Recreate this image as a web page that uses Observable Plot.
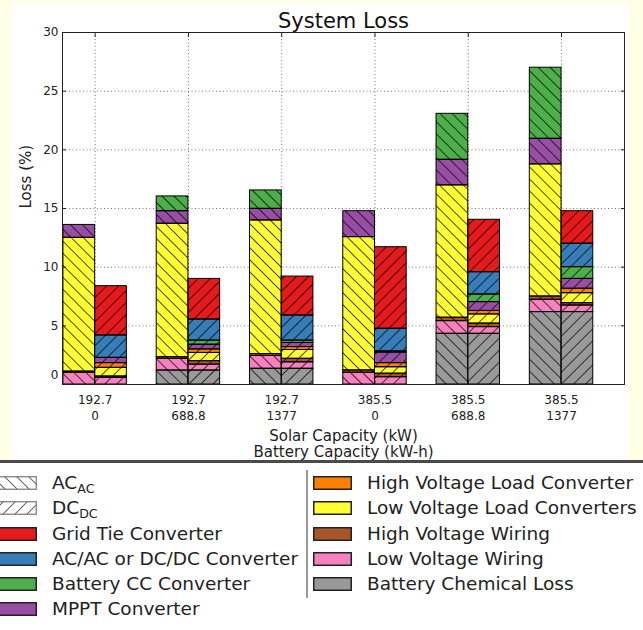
<!DOCTYPE html>
<html><head><meta charset="utf-8">
<script src="https://cdn.jsdelivr.net/npm/d3@7"></script>
<script src="https://cdn.jsdelivr.net/npm/@observablehq/plot@0.6"></script>
<style>
html,body{margin:0;padding:0;}
body{width:643px;height:630px;background:#ffffe6;position:relative;overflow:hidden;font-family:"DejaVu Sans",sans-serif;}
#fig{position:absolute;left:11px;top:3px;width:617px;height:457px;background:#fff;}
#legend{position:absolute;left:0;top:460px;width:643px;height:170px;background:#fff;border-top:3px solid #4a4a4a;box-sizing:border-box;}
.patch{position:absolute;}
.txt{position:absolute;height:26px;line-height:26px;font-size:18.5px;color:#222;white-space:nowrap;}
.sub{font-size:0.68em;position:relative;top:0.28em;}
#divider{position:absolute;left:306px;top:7px;width:1.5px;height:128px;background:#999;}
</style>
</head>
<body>
<div id="fig"></div>
<div id="legend"><div id="divider"></div></div>
<script>
// ---- data ----
const solarCapacity = ["192.7", "192.7", "192.7", "385.5", "385.5", "385.5"];
const batteryCapacity = ["0", "688.8", "1377", "0", "688.8", "1377"];
const groupIndex = [0, 1, 2, 3, 4, 5];
const yTicks = [5, 10, 15, 20, 25, 30];

// stacking order bottom -> top
const components = ["Battery Chemical Loss", "Low Voltage Wiring", "High Voltage Wiring",
  "Low Voltage Load Converters", "High Voltage Load Converter", "MPPT Converter",
  "Battery CC Converter", "AC/AC or DC/DC Converter", "Grid Tie Converter"];
const colors = ["#999999", "#f781bf", "#a65628", "#ffff33", "#ff7f00", "#984ea3", "#4daf4a", "#377eb8", "#e41a1c"];

// AC_AC bars
const batteryChemicalAC = [0, 1.19, 1.34, 0, 4.32, 6.17];
const lvWiringAC        = [1.0, 1.0, 1.1, 1.0, 1.08, 1.05];
const hvWiringAC        = [0.1, 0.14, 0.16, 0.2, 0.29, 0.28];
const lvLoadAC          = [11.4, 11.37, 11.38, 11.36, 11.28, 11.26];
const hvLoadAC          = [0, 0, 0, 0, 0, 0];
const mpptAC            = [1.1, 1.07, 0.99, 2.21, 2.18, 2.18];
const batteryCCAC       = [0, 1.26, 1.57, 0, 3.92, 6.06];
const converterAC       = [0, 0, 0, 0, 0, 0];
const gridTieAC         = [0, 0, 0, 0, 0, 0];
// DC_DC bars
const batteryChemicalDC = [0, 1.19, 1.34, 0, 4.32, 6.17];
const lvWiringDC        = [0.57, 0.5, 0.55, 0.62, 0.57, 0.56];
const hvWiringDC        = [0.11, 0.3, 0.3, 0.3, 0.3, 0.2];
const lvLoadDC          = [0.74, 0.7, 0.75, 0.55, 0.78, 0.85];
const hvLoadDC          = [0.4, 0.3, 0.25, 0.35, 0.3, 0.38];
const mpptDC            = [0.45, 0.4, 0.35, 0.9, 0.75, 0.84];
const batteryCCDC       = [0, 0.35, 0.2, 0.1, 0.65, 1.0];
const converterDC       = [1.91, 1.8, 2.14, 1.93, 1.9, 2.0];
const gridTieDC         = [4.2, 3.46, 3.32, 6.95, 4.47, 2.77];

const seriesAC = [batteryChemicalAC, lvWiringAC, hvWiringAC, lvLoadAC, hvLoadAC, mpptAC, batteryCCAC, converterAC, gridTieAC];
const seriesDC = [batteryChemicalDC, lvWiringDC, hvWiringDC, lvLoadDC, hvLoadDC, mpptDC, batteryCCDC, converterDC, gridTieDC];

const legendLeft = [
  {label: "AC", sub: "AC", hatch: "AC"},
  {label: "DC", sub: "DC", hatch: "DC"},
  {label: "Grid Tie Converter", color: "#e41a1c"},
  {label: "AC/AC or DC/DC Converter", color: "#377eb8"},
  {label: "Battery CC Converter", color: "#4daf4a"},
  {label: "MPPT Converter", color: "#984ea3"}
];
const legendRight = [
  {label: "High Voltage Load Converter", color: "#ff7f00"},
  {label: "Low Voltage Load Converters", color: "#ffff33"},
  {label: "High Voltage Wiring", color: "#a65628"},
  {label: "Low Voltage Wiring", color: "#f781bf"},
  {label: "Battery Chemical Loss", color: "#999999"}
];

// ---- build stacked rows ----
const barWidth = 0.34;
const rows = [];
groupIndex.forEach(i => {
  [["AC", seriesAC], ["DC", seriesDC]].forEach(([type, series]) => {
    let acc = 0;
    components.forEach((c, k) => {
      const v = series[k][i];
      if (v > 0) rows.push({i, type, comp: c, color: colors[k], y1: acc, y2: acc + v});
      acc += v;
    });
  });
});
const bx1 = d => d.type === "AC" ? d.i - barWidth : d.i;
const bx2 = d => d.type === "AC" ? d.i : d.i + barWidth;

const grid = {stroke: "#000", strokeOpacity: 0.55, strokeDasharray: "1,2.5", strokeWidth: 1};

const svg = Plot.plot({
  width: 617, height: 457,
  marginLeft: 51, marginRight: 4, marginTop: 29, marginBottom: 76,
  style: {fontFamily: "DejaVu Sans", fontSize: "12px", background: "#fff", color: "#222", overflow: "visible"},
  x: {type: "linear", domain: [-0.35, 5.675]},
  y: {domain: [0, 30]},
  color: {type: "identity"},
  marks: [
    Plot.gridX(groupIndex, grid),
    Plot.gridY(yTicks.slice(0, -1), grid),
    Plot.rect(rows, {x1: bx1, x2: bx2, y1: "y1", y2: "y2", fill: "color"}),
    Plot.rect(rows, {x1: bx1, x2: bx2, y1: "y1", y2: "y2",
      fill: d => d.type === "AC" ? "url(#hAC)" : "url(#hDC)", stroke: "#000", strokeWidth: 1}),
    Plot.frame({stroke: "#222", strokeWidth: 1}),
    Plot.axisY({ticks: yTicks, tickSize: -4, tickPadding: 8, label: null, fontSize: 12}),
    Plot.axisY({ticks: [0], tickSize: 0, tickPadding: 4, dy: -9, label: null, fontSize: 12}),
    Plot.axisY({anchor: "right", ticks: yTicks, tickSize: -4, tickFormat: () => "", label: null}),
    Plot.axisX({ticks: groupIndex, tickSize: -4, tickPadding: 12, lineHeight: 1.33, fontSize: 12,
      tickFormat: i => `${solarCapacity[i]}\n${batteryCapacity[i]}`, label: null}),
    Plot.axisX({anchor: "top", ticks: groupIndex, tickSize: -4, tickFormat: () => "", label: null}),
    Plot.text(["System Loss"], {text: d => d, frameAnchor: "top", dy: -11, fontSize: 21, lineAnchor: "middle", fill: "#111"}),
    Plot.text(["Loss (%)"], {text: d => d, frameAnchor: "left", dx: -36, rotate: -90, fontSize: 15, fill: "#222"}),
    Plot.text(["Solar Capacity (kW)\nBattery Capacity (kW-h)"], {text: d => d, frameAnchor: "bottom", dy: 44,
      lineAnchor: "top", lineHeight: 1.13, fontSize: 15, fill: "#222"})
  ]
});

function addPatterns(sel, prefix, color, opacity) {
  const defs = sel.insert("defs", ":first-child");
  [["AC", -45], ["DC", 45]].forEach(([t, a]) => {
    const p = defs.append("pattern").attr("id", prefix + t)
      .attr("patternUnits", "userSpaceOnUse").attr("width", 8.5).attr("height", 8.5)
      .attr("patternTransform", `rotate(${a})`);
    p.append("line").attr("x1", 4.25).attr("y1", -1).attr("x2", 4.25).attr("y2", 9.5)
      .attr("stroke", color).attr("stroke-width", 1).attr("stroke-opacity", opacity);
  });
}
addPatterns(d3.select(svg), "h", "#000", 0.75);
document.getElementById("fig").appendChild(svg);

// ---- legend ----
const legend = d3.select("#legend");
const rowCenters = [20, 45, 71, 96, 121, 146];
function addItem(item, r, patchX, textX) {
  const cy = rowCenters[r];
  const ps = legend.append("svg").attr("class", "patch").attr("width", 39).attr("height", 14)
    .style("left", patchX + "px").style("top", (cy - 7) + "px");
  if (item.hatch) {
    addPatterns(ps, "l" + r, "#555", 0.9);
    ps.append("rect").attr("x", 0.75).attr("y", 0.75).attr("width", 37.5).attr("height", 12.5)
      .attr("fill", "#fff");
    ps.append("rect").attr("x", 0.75).attr("y", 0.75).attr("width", 37.5).attr("height", 12.5)
      .attr("fill", `url(#l${r}${item.hatch})`).attr("stroke", "#777").attr("stroke-width", 1.2);
  } else {
    ps.append("rect").attr("x", 0.75).attr("y", 0.75).attr("width", 37.5).attr("height", 12.5)
      .attr("fill", item.color).attr("stroke", "#222").attr("stroke-width", 1.5);
  }
  const t = legend.append("div").attr("class", "txt").style("left", textX + "px").style("top", (cy - 13) + "px");
  t.append("span").text(item.label);
  if (item.sub) t.append("span").attr("class", "sub").text(item.sub);
}
legendLeft.forEach((d, r) => addItem(d, r, -2, 52));
legendRight.forEach((d, r) => addItem(d, r, 313, 367));
</script>
</body></html>
